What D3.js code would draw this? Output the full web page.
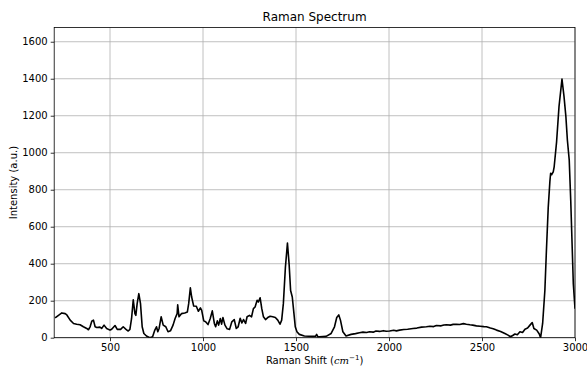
<!DOCTYPE html>
<html>
<head>
<meta charset="utf-8">
<script src="https://cdn.jsdelivr.net/npm/d3@7"></script>
<style>
  html, body { margin: 0; padding: 0; background: #fff; }
  svg { display: block; }
  text { font-family: "DejaVu Sans", sans-serif; fill: #000; }
</style>
</head>
<body>
<svg id="chart" width="587" height="370"></svg>
<script>
// ---- data ----
const ramanShift = [
  205, 223, 241, 259, 268, 286, 304, 321, 339, 357, 375, 384, 393, 402, 411, 420, 429, 446, 455, 468,
  482, 500, 509, 527, 539, 557, 571, 586, 598, 607, 616, 625, 634, 639, 646, 655, 664, 673, 682, 696,
  714, 729, 741, 750, 757, 764, 775, 786, 800, 812, 825, 839, 850, 861, 864, 871, 884, 902, 916, 923,
  932, 939, 950, 964, 975, 986, 993, 1004, 1014, 1027, 1039, 1050, 1061, 1068, 1077, 1084, 1093, 1100, 1107, 1118,
  1130, 1143, 1155, 1168, 1179, 1189, 1200, 1209, 1218, 1229, 1237, 1250, 1261, 1271, 1280, 1291, 1298, 1307, 1316, 1325,
  1336, 1348, 1361, 1375, 1389, 1402, 1414, 1423, 1432, 1443, 1454, 1463, 1471, 1480, 1489, 1496, 1505, 1518, 1545, 1590,
  1605, 1611, 1617, 1626, 1662, 1689, 1707, 1719, 1730, 1739, 1752, 1769, 1796, 1820, 1841, 1860, 1880, 1895, 1915, 1930,
  1949, 1970, 1985, 2003, 2025, 2040, 2057, 2080, 2100, 2129, 2150, 2175, 2201, 2220, 2240, 2255, 2280, 2295, 2308, 2330,
  2345, 2362, 2380, 2400, 2416, 2435, 2450, 2470, 2490, 2510, 2524, 2545, 2560, 2578, 2600, 2623, 2640, 2653, 2665, 2677,
  2690, 2704, 2718, 2731, 2745, 2758, 2770, 2779, 2794, 2808, 2815, 2826, 2838, 2847, 2856, 2865, 2869, 2874, 2883, 2888,
  2901, 2914, 2930, 2941, 2951, 2959, 2969, 2973, 2977, 2991, 3000
];
const intensity = [
  107, 121, 134, 130, 123, 95, 77, 73, 70, 59, 50, 43, 59, 89, 95, 59, 55, 57, 50, 68,
  50, 41, 46, 66, 45, 45, 59, 45, 36, 45, 104, 205, 130, 121, 184, 238, 184, 59, 23, 9,
  0, 5, 41, 59, 32, 50, 113, 68, 59, 32, 37, 68, 104, 130, 178, 113, 130, 134, 139, 184,
  270, 220, 171, 170, 143, 161, 148, 91, 86, 71, 104, 145, 77, 59, 91, 68, 104, 73, 109, 68,
  48, 45, 86, 98, 50, 59, 105, 80, 98, 77, 113, 121, 113, 157, 166, 202, 193, 216, 157, 113,
  98, 109, 116, 113, 109, 95, 73, 95, 184, 380, 512, 398, 255, 220, 130, 59, 32, 18, 9, 7,
  8, 18, 6, 5, 7, 23, 59, 109, 123, 95, 32, 9, 18, 22, 27, 30, 28, 32, 30, 36,
  34, 38, 35, 36, 40, 37, 41, 44, 46, 50, 52, 57, 59, 62, 60, 66, 64, 69, 70, 68,
  72, 73, 71, 76, 73, 70, 68, 64, 62, 60, 59, 52, 48, 41, 34, 23, 14, 5, 12, 20,
  16, 32, 28, 46, 52, 68, 82, 50, 41, 20, 0, 77, 255, 488, 702, 845, 889, 881, 897, 924,
  1059, 1249, 1398, 1303, 1195, 1069, 960, 852, 744, 291, 157
];
const xTicks = [500, 1000, 1500, 2000, 2500, 3000];
const yTicks = [0, 200, 400, 600, 800, 1000, 1200, 1400, 1600];
const titleText = "Raman Spectrum";
const yLabelText = "Intensity (a.u.)";

// ---- layout ----
const svg = d3.select("#chart");
const m = { left: 54.2, right: 575, top: 27.5, bottom: 337.7 };

const x = d3.scaleLinear().domain([200, 3000]).range([m.left, m.right]);
const y = d3.scaleLinear().domain([0, 1677]).range([m.bottom, m.top]);

// grid
const grid = svg.append("g");
grid.selectAll("line.gx").data(xTicks).join("line")
  .attr("x1", d => x(d)).attr("x2", d => x(d))
  .attr("y1", m.top).attr("y2", m.bottom)
  .attr("stroke", "#b0b0b0").attr("stroke-width", 0.8);
grid.selectAll("line.gy").data(yTicks).join("line")
  .attr("x1", m.left).attr("x2", m.right)
  .attr("y1", d => y(d)).attr("y2", d => y(d))
  .attr("stroke", "#b0b0b0").attr("stroke-width", 0.8);

// data line
const pts = ramanShift.map((v, i) => [v, intensity[i]]);
svg.append("defs").append("clipPath").attr("id", "clip")
  .append("rect").attr("x", m.left).attr("y", m.top)
  .attr("width", m.right - m.left).attr("height", m.bottom - m.top);
svg.append("path")
  .datum(pts)
  .attr("clip-path", "url(#clip)")
  .attr("fill", "none")
  .attr("stroke", "#000")
  .attr("stroke-width", 1.6)
  .attr("stroke-linejoin", "round")
  .attr("d", d3.line().x(d => x(d[0])).y(d => y(d[1])));

// axes
const xAxis = d3.axisBottom(x).tickValues(xTicks).tickSize(3.5).tickPadding(3).tickFormat(d3.format("d"));
const yAxis = d3.axisLeft(y).tickValues(yTicks).tickSize(3.5).tickPadding(3).tickFormat(d3.format("d"));
const gx = svg.append("g").attr("transform", `translate(0,${m.bottom})`).call(xAxis);
const gy = svg.append("g").attr("transform", `translate(${m.left},0)`).call(yAxis);
[gx, gy].forEach(g => {
  g.select(".domain").remove();
  g.selectAll(".tick line").attr("stroke", "#000").attr("stroke-width", 0.8);
  g.selectAll(".tick text").attr("font-size", 10).attr("font-family", "DejaVu Sans").attr("fill", "#000");
});

// spines
svg.append("rect")
  .attr("x", m.left).attr("y", m.top)
  .attr("width", m.right - m.left).attr("height", m.bottom - m.top)
  .attr("fill", "none").attr("stroke", "#000").attr("stroke-width", 0.8);

// title
svg.append("text")
  .attr("x", (m.left + m.right) / 2).attr("y", 21)
  .attr("text-anchor", "middle").attr("font-size", 12)
  .text(titleText);

// x label with italic cm and superscript
const xl = svg.append("text")
  .attr("x", (m.left + m.right) / 2).attr("y", 364)
  .attr("text-anchor", "middle").attr("font-size", 10);
xl.append("tspan").text("Raman Shift (");
xl.append("tspan").attr("font-style", "italic").attr("font-family", "DejaVu Serif").text("cm");
xl.append("tspan").attr("dy", -4).attr("font-size", 7).text("\u22121");
xl.append("tspan").attr("dy", 4).text(")");

// y label
svg.append("text")
  .attr("transform", `translate(17,${(m.top + m.bottom) / 2}) rotate(-90)`)
  .attr("text-anchor", "middle").attr("font-size", 10)
  .text(yLabelText);
</script>
</body>
</html>
